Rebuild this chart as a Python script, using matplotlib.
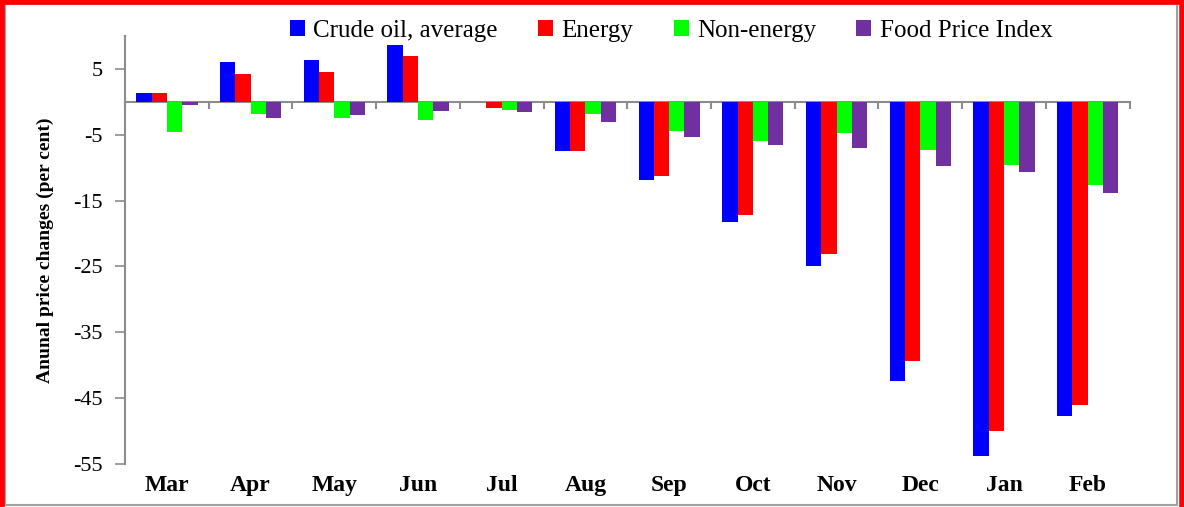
import matplotlib
matplotlib.use("Agg")
import matplotlib.pyplot as plt
from matplotlib.patches import Rectangle
import numpy as np

months = ["Mar", "Apr", "May", "Jun", "Jul", "Aug", "Sep", "Oct", "Nov", "Dec", "Jan", "Feb"]

crude_oil = [1.4, 6.1, 6.4, 8.6, 0.0, -7.5, -11.8, -18.3, -24.9, -42.4, -53.8, -47.7]
energy = [1.3, 4.3, 4.6, 6.9, -1.0, -7.4, -11.3, -17.2, -23.1, -39.3, -50.0, -46.0]
non_energy = [-4.6, -1.9, -2.4, -2.7, -1.3, -1.8, -4.4, -5.9, -4.7, -7.3, -9.6, -12.6]
food_price = [-0.5, -2.5, -2.0, -1.4, -1.6, -3.1, -5.4, -6.6, -7.0, -9.8, -10.7, -13.9]

series_names = ["Crude oil, average", "Energy", "Non-energy", "Food Price Index"]
series_colors = ["#0000FF", "#FF0000", "#00FF00", "#7030A0"]

plt.rcParams["font.family"] = ["Liberation Serif", "DejaVu Serif"]
plt.rcParams["axes.unicode_minus"] = False

fig = plt.figure(figsize=(11.84, 5.07), dpi=100)
ax = fig.add_axes([0.1056, 0.085, 0.8484, 0.844])

x = np.arange(len(months))
w = 0.183
all_series = [crude_oil, energy, non_energy, food_price]
for i, vals in enumerate(all_series):
    ax.bar(x + (i - 1.5) * w, vals, width=w, color=series_colors[i],
           label=series_names[i], zorder=3)

ax.set_xlim(-0.5, len(months) - 0.5)
ax.set_ylim(-55, 10)
ax.set_yticks(np.arange(5, -56, -10))
ax.tick_params(axis="y", labelsize=16, length=7, color="#8c8c8c", width=1.2, pad=9)

# x axis line sits on zero, ticks between the months
ax.spines["top"].set_visible(False)
ax.spines["right"].set_visible(False)
ax.spines["left"].set_color("#8c8c8c")
ax.spines["left"].set_linewidth(1.5)
ax.spines["bottom"].set_position(("data", 0))
ax.spines["bottom"].set_color("#8c8c8c")
ax.spines["bottom"].set_linewidth(1.5)
ax.set_xticks(np.arange(len(months) + 1) - 0.5)
ax.tick_params(axis="x", length=5, color="#8c8c8c", width=1.5, labelbottom=False)

# month names at the bottom of the plot
sec = ax.secondary_xaxis("bottom")
sec.set_xticks(x)
sec.set_xticklabels(months, fontsize=17, fontweight="bold")
sec.tick_params(length=0, pad=8)
sec.spines["bottom"].set_visible(False)

ax.set_ylabel("Anunal price changes (per cent)", fontsize=14, fontweight="bold", labelpad=14)

fig.legend(loc="center", bbox_to_anchor=(0.567, 0.939), ncol=4, frameon=False,
           fontsize=18, handlelength=0.6, handleheight=0.6, handletextpad=0.35,
           columnspacing=1.6)

# frame around the picture, red edge runs off the bottom
fig.patches.append(Rectangle((0.0045, 0.003), 0.99, 0.99, transform=fig.transFigure,
                             fill=False, edgecolor="#a0a0a0", linewidth=1.5))
fig.patches.append(Rectangle((0.0015, -0.05), 0.997, 1.047, transform=fig.transFigure,
                             fill=False, edgecolor="#FF0000", linewidth=4))

fig.savefig("out.png", dpi=100)
